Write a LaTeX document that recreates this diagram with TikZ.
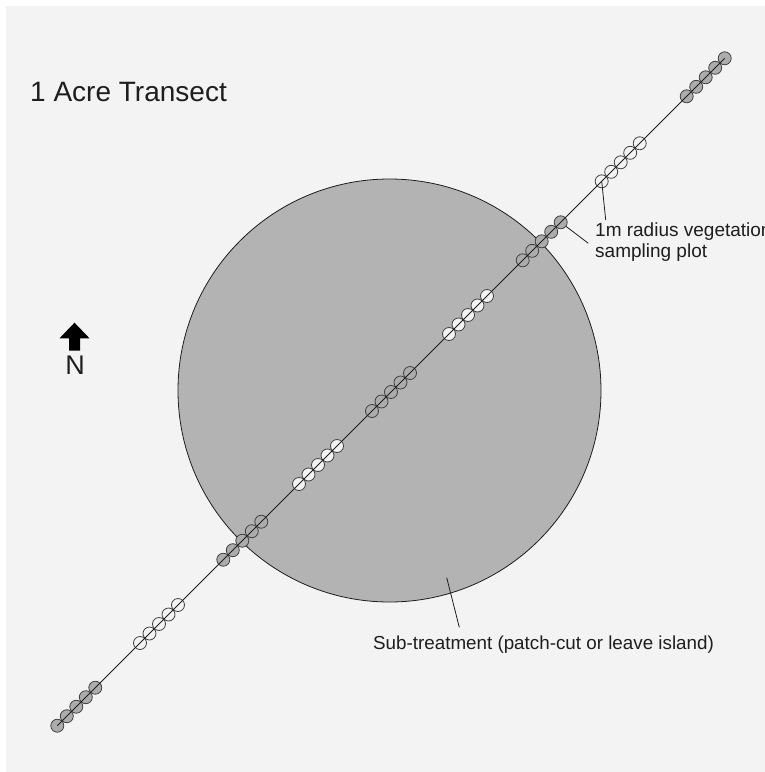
\documentclass[tikz,border=0pt]{standalone}
\usepackage{fontspec}
\setmainfont{Liberation Sans}
\usepackage{xcolor}
\usetikzlibrary{positioning}
\definecolor{patchgray}{HTML}{B3B3B3}
\definecolor{plotgray}{HTML}{ACACAC}
\definecolor{bggray}{HTML}{F3F3F3}
\definecolor{inkgray}{HTML}{1E1E1E}

\begin{document}
\begin{tikzpicture}[
  x=1pt, y=-1pt,
  shaded/.style={circle, draw=inkgray!85, fill=plotgray, minimum size=13pt, inner sep=0pt, line width=0.8pt},
  open/.style={shaded, fill=bggray},
  lbl/.style={font=\fontsize{18.8}{20.5}\selectfont, text=inkgray, inner sep=0pt},
  leader/.style={draw=inkgray, line width=0.8pt}
]
% Frame and backdrop
\fill[white] (0,0) rectangle (765,772);
\fill[bggray] (6,6) rectangle (765,772);
\useasboundingbox (0,0) rectangle (765,772);

% Sub-treatment patch
\node[circle, draw=inkgray, line width=0.8pt, fill=patchgray, minimum size=423pt, inner sep=0pt]
  (patch) at (389.5,390.5) {};

% Vegetation plots - groups of five along the transect
\foreach \g/\x/\sty in {0/57.3/shaded, 1/140/open, 2/223.3/shaded, 3/299/open,
  4/372/shaded, 5/449/open, 6/522.7/shaded, 7/601.7/open, 8/686.7/shaded}{
  \foreach \k in {1,...,5}{
    \node[\sty] (P\g-\k) at ({\x+9.5*(\k-1)}, {783-\x-9.5*(\k-1)}) {};
  }
}

% Transect line
\draw[inkgray, line width=0.8pt] (P0-1.center) -- (P8-5.center);

% Title
\node[anchor=base west, font=\fontsize{28}{30}\selectfont, text=inkgray, inner sep=0pt]
  (title) at (30,101) {1 Acre Transect};

% North arrow
\fill[black] (74.5,322.7) -- (89.5,338.3) -- (80,338.3) -- (80,350.7)
  -- (69,350.7) -- (69,338.3) -- (59.5,338.3) -- cycle;
\node[anchor=base, font=\fontsize{27}{30}\selectfont, text=inkgray, inner sep=0pt]
  (north) at (75,374) {N};

% Plot label (base anchor sits on the last line)
\node[lbl, font=\fontsize{19}{20.5}\selectfont, anchor=base west, align=left] (plotlbl) at (595,257)
  {1m radius vegetation\\sampling plot};
\coordinate (plotend1) at (605.7,220);
\coordinate (plotend2) at (588.3,243.3);
\draw[leader] (P7-1.center) -- (plotend1);
\draw[leader] (P6-5) -- (plotend2);

% Patch label
\node[lbl, anchor=base west] (patchlbl) at (373,649)
  {Sub-treatment (patch-cut or leave island)};
\coordinate (patchin) at (446.7,577.7);
\coordinate (patchend) at (459.3,627.3);
\draw[leader] (patchin) -- (patchend);

\end{tikzpicture}
\end{document}
